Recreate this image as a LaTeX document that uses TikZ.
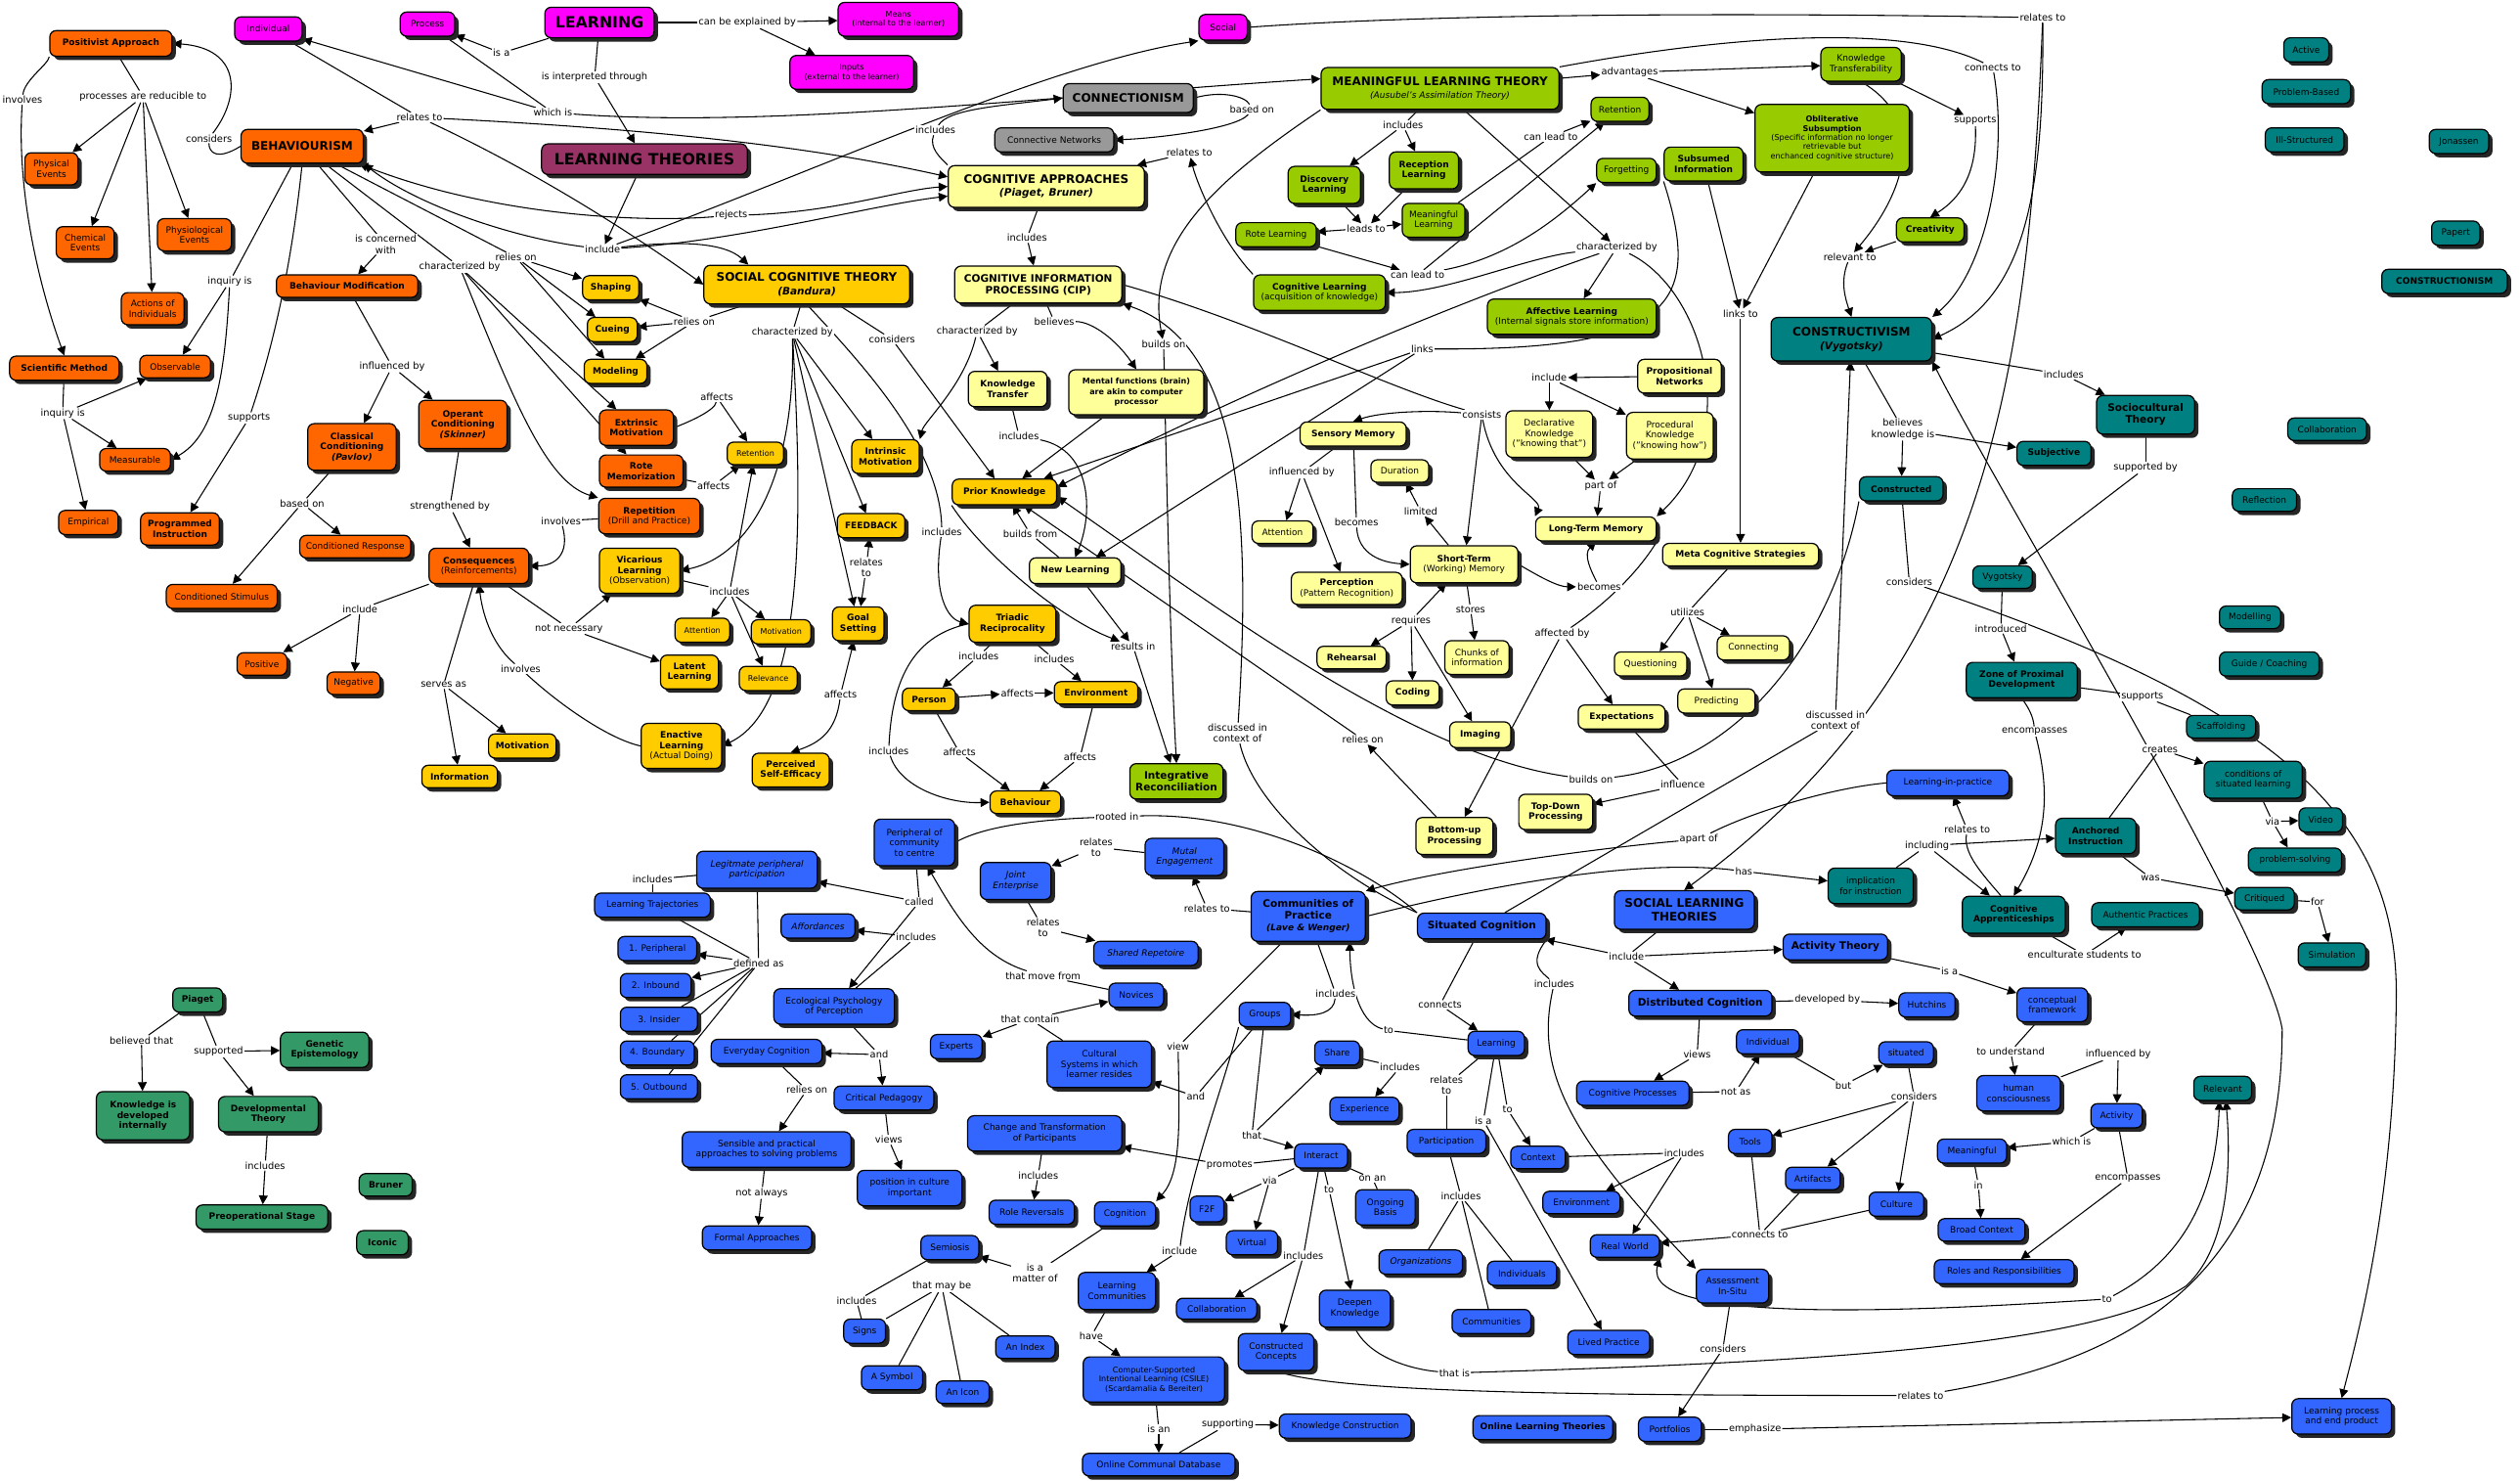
\documentclass[tikz,border=0pt]{standalone}
\usepackage{fontspec}
\setmainfont{DejaVu Sans}
\usetikzlibrary{arrows.meta,shadows,backgrounds}
\definecolor{cMag}{HTML}{FF00FF}
\definecolor{cPlum}{HTML}{993366}
\definecolor{cOrg}{HTML}{FF6600}
\definecolor{cGold}{HTML}{FFCC00}
\definecolor{cLy}{HTML}{FFFF99}
\definecolor{cLime}{HTML}{99CC00}
\definecolor{cGrey}{HTML}{999999}
\definecolor{cTeal}{HTML}{008080}
\definecolor{cBlue}{HTML}{3366FF}
\definecolor{cSea}{HTML}{339966}
\newcommand\szR{\fontsize{5.5}{6.4}\selectfont}
\newcommand\szS{\fontsize{4.9}{5.7}\selectfont}
\newcommand\szL{\fontsize{6}{6.8}\selectfont}
\newcommand\szM{\fontsize{6.4}{7.4}\selectfont}
\newcommand\szG{\fontsize{7.3}{8.4}\selectfont}
\newcommand\szH{\fontsize{9.6}{10.5}\selectfont}
\newcommand\nd[6]{\node[#1,minimum width=#4pt,minimum height=#5pt] (#2) at (#3) {#6};}
\newcommand\lab[3]{\node[lbl] (#1) at (#2) {#3};}
\newcommand\eL[2]{\draw[cl] (#1) -- (#2);}
\newcommand\eA[2]{\draw[ca] (#1) -- (#2);}
\tikzset{
 box/.style={draw,line width=0.75pt,rounded corners=4pt,align=center,inner sep=1pt,font=\szR,
   drop shadow={shadow xshift=2.4pt,shadow yshift=-2.4pt,fill=black!85,opacity=1}},
 cmg/.style={box,fill=cMag},
 cpl/.style={box,fill=cPlum},
 corg/.style={box,fill=cOrg},
 cgd/.style={box,fill=cGold},
 cly/.style={box,fill=cLy},
 clm/.style={box,fill=cLime},
 cgy/.style={box,fill=cGrey},
 ctl/.style={box,fill=cTeal},
 cbl/.style={box,fill=cBlue},
 csg/.style={box,fill=cSea},
 fbold/.style={font=\szR\bfseries},
 fsmall/.style={font=\szS},
 fmed/.style={font=\szM\bfseries},
 fbig/.style={font=\szG\bfseries},
 fhuge/.style={font=\szH\bfseries},
 fital/.style={font=\szR\itshape},
 lbl/.style={fill=white,inner sep=0.6pt,align=center,font=\szL},
 cl/.style={line width=0.65pt},
 ca/.style={cl,-{Triangle[length=5.5pt,width=5.5pt]}},
}
\begin{document}
\begin{tikzpicture}[x=1pt,y=-1pt]
\useasboundingbox (0,0) rectangle (1568,921);
% ---------------- magenta / top
\nd{cmg,fhuge}{learn}{373,14}{68}{19}{LEARNING}
\nd{cmg}{indiv}{167,18}{42}{15}{Individual}
\nd{cmg}{proc}{266,15}{34}{15}{Process}
\nd{cmg,fsmall}{means}{559,12}{75}{21}{Means\\(internal to the learner)}
\nd{cmg,fsmall}{inputs}{530,45}{77}{21}{Inputs\\(external to the learner)}
\nd{cmg}{social}{761,17}{30}{16}{Social}
\nd{cpl,fhuge}{lth}{401,99}{128}{19}{LEARNING THEORIES}
% ---------------- orange
\nd{corg,fbold}{pos}{69,27}{76}{16}{Positivist Approach}
\nd{corg,fbig}{beh}{188,91}{76}{21}{BEHAVIOURISM}
\nd{corg}{phys}{32,105}{33}{20}{Physical\\Events}
\nd{corg}{chem}{53,151}{36}{20}{Chemical\\Events}
\nd{corg}{physio}{121,146}{46}{20}{Physiological\\Events}
\nd{corg}{actions}{95,192}{39}{20}{Actions of\\Individuals}
\nd{corg,fbold}{sci}{40,229}{68}{15}{Scientific Method}
\nd{corg}{obs}{109,228}{44}{14}{Observable}
\nd{corg}{meas}{84,286}{44}{14}{Measurable}
\nd{corg}{emp}{55,325}{37}{15}{Empirical}
\nd{corg,fbold}{prog}{112,329}{49}{20}{Programmed\\Instruction}
\nd{corg,fbold}{bmod}{216,178}{88}{14}{Behaviour Modification}
\nd{corg,fbold}{class}{219,278}{55}{29}{Classical\\Conditioning\\\textit{(Pavlov)}}
\nd{corg,fbold}{oper}{288,264}{55}{30}{Operant\\Conditioning\\\textit{(Skinner)}}
\nd{corg}{cresp}{221,340}{69}{14}{Conditioned Response}
\nd{corg}{cstim}{138,371}{69}{15}{Conditioned Stimulus}
\nd{corg}{cons}{298,352}{62}{22}{\textbf{Consequences}\\(Reinforcements)}
\nd{corg}{posv}{163,413}{31}{14}{Positive}
\nd{corg}{neg}{220,425}{33}{14}{Negative}
\nd{corg,fbold}{extr}{396,266}{46}{22}{Extrinsic\\Motivation}
\nd{corg,fbold}{rote}{399,293}{52}{20}{Rote\\Memorization}
\nd{corg}{rep}{404,321}{63}{22}{\textbf{Repetition}\\(Drill and Practice)}
% ---------------- gold
\nd{cgd,fbig}{scog}{502,177}{128}{24}{SOCIAL COGNITIVE THEORY\\{\szM\itshape(Bandura)}}
\nd{cgd,fbold}{shap}{380,179}{35}{15}{Shaping}
\nd{cgd,fbold}{cue}{381,205}{31}{15}{Cueing}
\nd{cgd,fbold}{mod}{383,231}{39}{15}{Modeling}
\nd{cgd,fsmall}{ret1}{470,282}{35}{14}{Retention}
\nd{cgd,fbold}{intr}{551,284}{42}{21}{Intrinsic\\Motivation}
\nd{cgd,fbold}{feed}{542,327}{42}{15}{FEEDBACK}
\nd{cgd}{vic}{398,355}{50}{28}{\textbf{Vicarious}\\\textbf{Learning}\\(Observation)}
\nd{cgd,fsmall}{att1}{437,392}{34}{15}{Attention}
\nd{cgd,fsmall}{mot1}{486,393}{37}{15}{Motivation}
\nd{cgd,fbold}{goal}{534,388}{32}{21}{Goal\\Setting}
\nd{cgd,fbold}{lat}{429,418}{36}{21}{Latent\\Learning}
\nd{cgd,fsmall}{rel}{478,422}{36}{15}{Relevance}
\nd{cgd}{enac}{424,464}{50}{28}{\textbf{Enactive}\\\textbf{Learning}\\(Actual Doing)}
\nd{cgd,fbold}{pse}{492,479}{48}{21}{Perceived\\Self-Efficacy}
\nd{cgd,fbold}{mot2}{325,464}{42}{15}{Motivation}
\nd{cgd,fbold}{info}{286,483}{47}{14}{Information}
\nd{cgd,fbold}{prior}{625,306}{65}{16}{Prior Knowledge}
\nd{cgd,fbold}{triad}{630,388}{54}{23}{Triadic\\Reciprocality}
\nd{cgd,fbold}{person}{578,435}{33}{14}{Person}
\nd{cgd,fbold}{envg}{682,431}{52}{14}{Environment}
\nd{cgd,fbold}{behv}{638,499}{44}{14}{Behaviour}
% ---------------- light yellow
\nd{cly,fbig}{cog}{651,116}{122}{26}{COGNITIVE APPROACHES\\{\szM\itshape(Piaget, Bruner)}}
\nd{cly,fmed}{cip}{646,177}{104}{23}{COGNITIVE INFORMATION\\PROCESSING (CIP)}
\nd{cly,fbold}{ktr}{627,242}{49}{22}{Knowledge\\Transfer}
\nd{cly,fbold}{mental}{707,244}{84}{28}{\szS Mental functions (brain)\\\szS are akin to computer\\\szS processor}
\nd{cly,fbold}{newl}{669,355}{57}{16}{New Learning}
\nd{cly,fbold}{sens}{842,270}{66}{15}{Sensory Memory}
\nd{cly}{dur}{871,293}{36}{14}{Duration}
\nd{cly}{att2}{798,331}{38}{14}{Attention}
\nd{cly}{perc}{838,366}{69}{20}{\textbf{Perception}\\(Pattern Recognition)}
\nd{cly}{stm}{911,351}{67}{23}{\textbf{Short-Term}\\(Working) Memory}
\nd{cly,fbold}{ltm}{993,329}{75}{15}{Long-Term Memory}
\nd{cly,fbold}{meta}{1083,345}{97}{14}{Meta Cognitive Strategies}
\nd{cly,fbold}{reh}{841,409}{43}{14}{Rehearsal}
\nd{cly,fbold}{coding}{879,431}{33}{15}{Coding}
\nd{cly}{chunks}{919,409}{40}{21}{Chunks of\\information}
\nd{cly,fbold}{imag}{921,457}{38}{16}{Imaging}
\nd{cly}{quest}{1027,413}{45}{15}{Questioning}
\nd{cly}{conn}{1091,403}{45}{15}{Connecting}
\nd{cly}{pred}{1068,436}{48}{15}{Predicting}
\nd{cly,fbold}{expt}{1009,446}{54}{15}{Expectations}
\nd{cly,fbold}{topd}{968,505}{46}{22}{Top-Down\\Processing}
\nd{cly,fbold}{botu}{905,520}{48}{23}{Bottom-up\\Processing}
\nd{cly,fbold}{prop}{1045,234}{52}{21}{Propositional\\Networks}
\nd{cly}{decl}{964,270}{54}{29}{Declarative\\Knowledge\\("knowing that")}
\nd{cly}{proc2}{1039,271}{54}{29}{Procedural\\Knowledge\\("knowing how")}
% ---------------- lime
\nd{clm,fbig}{mlt}{896,55}{148}{26}{MEANINGFUL LEARNING THEORY\\{\mdseries\szR\itshape(Ausubel's Assimilation Theory)}}
\nd{clm}{ktf}{1158,40}{50}{21}{Knowledge\\Transferability}
\nd{clm,fsmall}{obl}{1140,86}{96}{42}{\textbf{Obliterative}\\\textbf{Subsumption}\\(Specific information no longer\\retrievable but\\enchanced cognitive structure)}
\nd{clm}{ret2}{1008,68}{36}{15}{Retention}
\nd{clm}{forg}{1012,106}{37}{15}{Forgetting}
\nd{clm,fbold}{subs}{1060,102}{49}{21}{Subsumed\\Information}
\nd{clm,fbold}{disc}{824,115}{45}{23}{Discovery\\Learning}
\nd{clm,fbold}{recp}{886,106}{43}{23}{Reception\\Learning}
\nd{clm}{meanl}{892,137}{39}{21}{Meaningful\\Learning}
\nd{clm}{rotel}{794,146}{50}{15}{Rote Learning}
\nd{clm}{cogl}{821,182}{82}{22}{\textbf{Cognitive Learning}\\(acquisition of knowledge)}
\nd{clm}{affl}{978,197}{105}{22}{\textbf{Affective Learning}\\(Internal signals store information)}
\nd{clm,fbold}{creat}{1201,143}{42}{15}{Creativity}
\nd{clm,fmed}{integ}{732,486}{58}{22}{Integrative\\Reconciliation}
% ---------------- grey
\nd{cgy,fbig}{connm}{702,61}{81}{18}{CONNECTIONISM}
\nd{cgy}{cnet}{656,87}{74}{15}{Connective Networks}
% ---------------- teal
\nd{ctl,fbig}{cnst}{1152,211}{100}{27}{CONSTRUCTIVISM\\{\szM\itshape(Vygotsky)}}
\nd{ctl}{active}{1435,31}{28}{15}{Active}
\nd{ctl}{pbased}{1435,57}{55}{15}{Problem-Based}
\nd{ctl}{ills}{1434,87}{49}{15}{Ill-Structured}
\nd{ctl}{jon}{1530,88}{37}{15}{Jonassen}
\nd{ctl}{pap}{1528,145}{30}{15}{Papert}
\nd{ctl,fbold}{cnism}{1521,175}{78}{15}{CONSTRUCTIONISM}
\nd{ctl,fmed}{socio}{1335,258}{61}{24}{Sociocultural\\Theory}
\nd{ctl,fbold}{subj}{1278,282}{46}{15}{Subjective}
\nd{ctl,fbold}{constd}{1183,304}{52}{15}{Constructed}
\nd{ctl}{collt}{1448,267}{49}{14}{Collaboration}
\nd{ctl}{refl}{1409,311}{40}{14}{Reflection}
\nd{ctl}{vyg}{1246,359}{37}{14}{Vygotsky}
\nd{ctl}{modl}{1400,384}{38}{14}{Modelling}
\nd{ctl}{guide}{1412,413}{62}{15}{Guide / Coaching}
\nd{ctl,fbold}{zpd}{1258,423}{69}{22}{Zone of Proximal\\Development}
\nd{ctl}{scaf}{1382,452}{43}{14}{Scaffolding}
\nd{ctl}{condsl}{1402,485}{61}{23}{conditions of\\situated learning}
\nd{ctl}{video}{1444,510}{27}{15}{Video}
\nd{ctl}{probs}{1428,535}{58}{15}{problem-solving}
\nd{ctl,fbold}{anch}{1304,520}{50}{22}{Anchored\\Instruction}
\nd{ctl}{impl}{1164,551}{53}{22}{implication\\for instruction}
\nd{ctl,fbold}{capp}{1253,569}{64}{23}{Cognitive\\Apprenticeships}
\nd{ctl}{auth}{1335,569}{67}{15}{Authentic Practices}
\nd{ctl}{crit}{1409,559}{37}{14}{Critiqued}
\nd{ctl}{sim}{1451,594}{42}{15}{Simulation}
\nd{ctl}{relv}{1383,677}{36}{15}{Relevant}
% ---------------- blue
\nd{cbl}{peri}{569,524}{50}{29}{Peripheral of\\community\\to centre}
\nd{cbl,fital}{lpp}{471,541}{75}{23}{Legitmate peripheral\\participation}
\nd{cbl}{ltraj}{406,563}{72}{15}{Learning Trajectories}
\nd{cbl,fital}{afford}{509,576}{46}{15}{Affordances}
\nd{cbl}{p1}{409,590}{49}{15}{1. Peripheral}
\nd{cbl}{p2}{408,613}{44}{15}{2. Inbound}
\nd{cbl}{p3}{410,634}{48}{15}{3. Insider}
\nd{cbl}{p4}{409,655}{46}{15}{4. Boundary}
\nd{cbl}{p5}{410,676}{48}{15}{5. Outbound}
\nd{cbl}{eco}{519,626}{75}{22}{Ecological Psychology\\of Perception}
\nd{cbl}{every}{477,654}{69}{15}{Everyday Cognition}
\nd{cbl}{critp}{550,683}{62}{15}{Critical Pedagogy}
\nd{cbl}{sensb}{477,715}{105}{22}{Sensible and practical\\approaches to solving problems}
\nd{cbl}{formal}{471,770}{68}{15}{Formal Approaches}
\nd{cbl}{posc}{566,739}{65}{22}{position in culture\\important}
\nd{cbl,fital}{joint}{632,548}{44}{23}{Joint\\Enterprise}
\nd{cbl,fital}{mutal}{737,533}{49}{23}{Mutal\\Engagement}
\nd{cbl,fital}{shared}{713,593}{65}{15}{Shared Repetoire}
\nd{cbl,fmed}{cop}{814,570}{71}{31}{Communities of\\Practice\\{\szR\itshape(Lave \& Wenger)}}
\nd{cbl,fmed}{sitc}{922,576}{80}{16}{Situated Cognition}
\nd{cbl,fbig}{slt}{1048,566}{87}{24}{SOCIAL LEARNING\\THEORIES}
\nd{cbl,fmed}{actth}{1142,589}{65}{16}{Activity Theory}
\nd{cbl,fmed}{distc}{1058,624}{89}{16}{Distributed Cognition}
\nd{cbl}{hutch}{1199,625}{35}{15}{Hutchins}
\nd{cbl}{cframe}{1277,625}{44}{21}{conceptual\\framework}
\nd{cbl}{novic}{707,619}{34}{15}{Novices}
\nd{cbl}{expert}{595,651}{32}{15}{Experts}
\nd{cbl}{cults}{684,662}{65}{29}{Cultural\\Systems in which\\learner resides}
\nd{cbl}{groups}{787,631}{32}{15}{Groups}
\nd{cbl}{share}{832,655}{28}{15}{Share}
\nd{cbl}{expr}{849,690}{43}{15}{Experience}
\nd{cbl}{learnb}{931,649}{35}{15}{Learning}
\nd{cbl}{indb}{1100,648}{39}{15}{Individual}
\nd{cbl}{situ}{1186,655}{34}{14}{situated}
\nd{cbl}{cogp}{1016,680}{70}{15}{Cognitive Processes}
\nd{cbl}{humc}{1256,680}{52}{22}{human\\consciousness}
\nd{cbl}{activ}{1317,694}{32}{15}{Activity}
\nd{cbl}{change}{650,705}{96}{22}{Change and Transformation\\of Participants}
\nd{cbl}{interact}{822,719}{33}{15}{Interact}
\nd{cbl}{partic}{900,710}{49}{15}{Participation}
\nd{cbl}{context}{957,720}{34}{14}{Context}
\nd{cbl}{tools}{1089,710}{27}{15}{Tools}
\nd{cbl}{meanb}{1227,716}{43}{15}{Meaningful}
\nd{cbl}{artif}{1128,733}{34}{14}{Artifacts}
\nd{cbl}{roler}{642,754}{53}{15}{Role Reversals}
\nd{cbl}{cogn}{700,755}{38}{15}{Cognition}
\nd{cbl}{f2f}{751,752}{21}{16}{F2F}
\nd{cbl}{ongo}{862,751}{37}{22}{Ongoing\\Basis}
\nd{cbl}{envb}{984,748}{48}{14}{Environment}
\nd{cbl}{culture}{1180,749}{34}{15}{Culture}
\nd{cbl}{virt}{779,773}{32}{15}{Virtual}
\nd{cbl}{realw}{1011,775}{43}{14}{Real World}
\nd{cbl}{broad}{1233,765}{54}{14}{Broad Context}
\nd{cbl}{semio}{591,776}{36}{15}{Semiosis}
\nd{cbl,fital}{orgs}{884,785}{52}{15}{Organizations}
\nd{cbl}{indivs}{947,792}{43}{15}{Individuals}
\nd{cbl}{assess}{1078,800}{45}{21}{Assessment\\In-Situ}
\nd{cbl}{roles}{1247,791}{87}{15}{Roles and Responsibilities}
\nd{cbl}{lcom}{695,803}{48}{23}{Learning\\Communities}
\nd{cbl}{collb}{757,814}{50}{13}{Collaboration}
\nd{cbl}{deep}{843,814}{44}{23}{Deepen\\Knowledge}
\nd{cbl}{commu}{928,822}{49}{15}{Communities}
\nd{cbl}{constc}{794,841}{47}{23}{Constructed\\Concepts}
\nd{cbl}{lived}{1001,835}{51}{15}{Lived Practice}
\nd{cbl}{signs}{538,828}{26}{15}{Signs}
\nd{cbl}{index}{638,838}{37}{14}{An Index}
\nd{cbl}{symb}{555,857}{38}{15}{A Symbol}
\nd{cbl}{icon}{599,866}{33}{14}{An Icon}
\nd{cbl,fsmall}{csile}{718,858}{88}{28}{Computer-Supported\\Intentional Learning (CSILE)\\(Scardamalia \& Bereiter)}
\nd{cbl}{ocd}{721,911}{95}{14}{Online Communal Database}
\nd{cbl}{kcon}{837,887}{82}{15}{Knowledge Construction}
\nd{cbl,fbold}{olt}{960,888}{87}{15}{Online Learning Theories}
\nd{cbl}{portf}{1039,889}{39}{15}{Portfolios}
\nd{cbl}{lpep}{1457,881}{62}{22}{Learning process\\and end product}
\nd{cbl}{lip}{1212,487}{76}{16}{Learning-in-practice}
% ---------------- sea green
\nd{csg,fbold}{piaget}{123,622}{31}{15}{Piaget}
\nd{csg,fbold}{genep}{202,653}{55}{22}{Genetic\\Epistemology}
\nd{csg,fbold}{kidi}{89,694}{58}{30}{Knowledge is\\developed\\internally}
\nd{csg,fbold}{devt}{167,693}{62}{22}{Developmental\\Theory}
\nd{csg,fbold}{preop}{163,757}{82}{15}{Preoperational Stage}
\nd{csg,fbold}{bruner}{240,737}{33}{14}{Bruner}
\nd{csg,fbold}{iconic}{238,773}{32}{15}{Iconic}
% ---------------- linking phrases
\lab{Linv}{14,62}{involves}
\lab{Lproc}{89,60}{processes are reducible to}
\lab{Lconsid}{130,86}{considers}
\lab{Lrel1}{261,73}{relates to}
\lab{Lisa}{312,33}{is a}
\lab{Linterp}{370,48}{is interpreted through}
\lab{Lwhich}{344,70}{which is}
\lab{Lincl}{375,155}{include}
\lab{Lconc}{240,152}{is concerned\\with}
\lab{Lchar1}{286,166}{characterized by}
\lab{Lrelon1}{321,160}{relies on}
\lab{Linq1}{143,175}{inquiry is}
\lab{Linq2}{39,257}{inquiry is}
\lab{Linfl1}{244,228}{influenced by}
\lab{Lsupp1}{155,260}{supports}
\lab{Lbased1}{188,313}{based on}
\lab{Lstr}{280,315}{strengthened by}
\lab{Linvo2}{349,324}{involves}
\lab{Lincl2}{224,379}{include}
\lab{Lnotn}{354,391}{not necessary}
\lab{Linvo3}{324,416}{involves}
\lab{Lserv}{276,426}{serves as}
\lab{Lexpl}{465,14}{can be explained by}
\lab{Lincl3}{582,81}{includes}
\lab{Lbased2}{779,68}{based on}
\lab{Lrel2}{740,95}{relates to}
\lab{Lrej}{455,134}{rejects}
\lab{Lincl4}{639,148}{includes}
\lab{Lrelon2}{432,200}{relies on}
\lab{Lchar2}{493,207}{characterized by}
\lab{Lconsid2}{555,211}{considers}
\lab{Lchar3}{608,206}{characterized by}
\lab{Lbeli}{656,200}{believes}
\lab{Lbuild1}{724,214}{builds on}
\lab{Laff1}{446,247}{affects}
\lab{Laff2}{444,302}{affects}
\lab{Lincl5}{634,271}{includes}
\lab{Lincl6}{454,368}{includes}
\lab{Lrel3}{539,353}{relates\\to}
\lab{Laff3}{523,432}{affects}
\lab{Lincl7}{586,331}{includes}
\lab{Lbfrom}{641,332}{builds from}
\lab{Lres}{705,402}{results in}
\lab{Lincl8}{609,408}{includes}
\lab{Lincl9}{656,410}{includes}
\lab{Laff4}{633,431}{affects}
\lab{Lincl10}{553,467}{includes}
\lab{Laff5}{597,468}{affects}
\lab{Laff6}{672,471}{affects}
\lab{Ldisc1}{770,456}{discussed in\\context of}
\lab{Ladv}{1014,45}{advantages}
\lab{Lincl11}{873,78}{includes}
\lab{Lclt1}{965,85}{can lead to}
\lab{Lleads}{850,142}{leads to}
\lab{Lchar4}{1006,154}{characterized by}
\lab{Lrelv}{1151,160}{relevant to}
\lab{Lclt2}{882,171}{can lead to}
\lab{Llinksto}{1083,195}{links to}
\lab{Llinks}{885,217}{links}
\lab{Lincl12}{964,235}{include}
\lab{Lconsists}{922,258}{consists}
\lab{Linfl2}{810,294}{influenced by}
\lab{Lpartof}{996,302}{part of}
\lab{Lrelto4}{1271,11}{relates to}
\lab{Lconnto}{1240,42}{connects to}
\lab{Lsupp2}{1229,75}{supports}
\lab{Lincl13}{1284,233}{includes}
\lab{Lbelieves}{1184,267}{believes\\knowledge is}
\lab{Lsuppby}{1335,291}{supported by}
\lab{Lbecomes1}{844,325}{becomes}
\lab{Llimited}{884,318}{limited}
\lab{Lbecomes2}{995,365}{becomes}
\lab{Lstores}{915,379}{stores}
\lab{Lreq}{878,386}{requires}
\lab{Lutil}{1050,381}{utilizes}
\lab{Laffby}{972,394}{affected by}
\lab{Lrelon3}{848,460}{relies on}
\lab{Ldisc2}{1142,448}{discussed in\\context of}
\lab{Lbuild2}{990,485}{builds on}
\lab{Linfl}{1047,488}{influence}
\lab{Lapart}{1057,522}{apart of}
\lab{Lhas}{1085,542}{has}
\lab{Lincl14}{1012,595}{include}
\lab{Lincl15}{967,612}{includes}
\lab{Lconsid3}{1188,362}{considers}
\lab{Lintro}{1245,391}{introduced}
\lab{Lsupp3}{1333,433}{supports}
\lab{Lenc1}{1266,455}{encompasses}
\lab{Lcreates}{1344,466}{creates}
\lab{Lvia1}{1414,511}{via}
\lab{Lrel5}{1224,516}{relates to}
\lab{Lincluding}{1199,526}{including}
\lab{Lwas}{1338,546}{was}
\lab{Lfor}{1442,561}{for}
\lab{Lencult}{1297,594}{enculturate students to}
\lab{Lisa2}{1213,604}{is a}
\lab{Lrooted}{695,508}{rooted in}
\lab{Lrel6}{682,527}{relates\\to}
\lab{Lincl16}{406,547}{includes}
\lab{Lcalled}{572,561}{called}
\lab{Lincl17}{570,583}{includes}
\lab{Lrel7}{649,577}{relates\\to}
\lab{Lrel8}{751,565}{relates to}
\lab{Ldefas}{472,599}{defined as}
\lab{Ltmf}{649,607}{that move from}
\lab{Ltc}{641,634}{that contain}
\lab{Land1}{547,656}{and}
\lab{Lview}{733,651}{view}
\lab{Lrelon4}{502,678}{relies on}
\lab{Land2}{744,682}{and}
\lab{Lviews}{553,709}{views}
\lab{Lprom}{765,725}{promotes}
\lab{Lincl18}{646,731}{includes}
\lab{Lnota}{474,742}{not always}
\lab{Lincl19}{734,778}{include}
\lab{Lmatter}{644,792}{is a\\matter of}
\lab{Ltmb}{586,800}{that may be}
\lab{Lincl20}{533,809}{includes}
\lab{Lhave}{679,831}{have}
\lab{Lisan}{721,889}{is an}
\lab{Lsupping}{764,886}{supporting}
\lab{Lincl21}{831,618}{includes}
\lab{Lconnects}{896,625}{connects}
\lab{Ldevby}{1137,622}{developed by}
\lab{Lto1}{864,641}{to}
\lab{Lincl22}{871,664}{includes}
\lab{Lviews2}{1056,656}{views}
\lab{Lrelto9}{900,675}{relates\\to}
\lab{Lbut}{1147,675}{but}
\lab{Lnotas}{1080,679}{not as}
\lab{Lto2}{938,690}{to}
\lab{Lisa3}{923,697}{is a}
\lab{Lthat}{779,706}{that}
\lab{Lincl23}{1048,717}{includes}
\lab{Lvia2}{790,734}{via}
\lab{Lonan}{854,733}{on an}
\lab{Lto3}{827,740}{to}
\lab{Lincl24}{909,744}{includes}
\lab{Lconnto2}{1095,768}{connects to}
\lab{Lincl25}{811,781}{includes}
\lab{Lconsid4}{1072,839}{considers}
\lab{Lthatis}{905,854}{that is}
\lab{Lemph}{1092,889}{emphasize}
\lab{Ltounder}{1251,654}{to understand}
\lab{Linflby3}{1318,656}{influenced by}
\lab{Lconsid5}{1191,682}{considers}
\lab{Lwhichis2}{1289,710}{which is}
\lab{Lin}{1231,737}{in}
\lab{Lenc2}{1324,733}{encompasses}
\lab{Lto4}{1311,808}{to}
\lab{Lrelto10}{1195,868}{relates to}
\lab{Lbelieved}{88,647}{believed that}
\lab{Lsupported}{136,654}{supported}
\lab{Lincl26}{165,725}{includes}
% ---------------- connectors
\begin{scope}[on background layer]
\fill[white] (0,0) rectangle (1568,921);
% learning
\eL{learn}{Lisa}\eA{Lisa}{proc}
\eL{learn}{Linterp}\eA{Linterp}{lth}
\eL{learn}{Lexpl}\eA{Lexpl}{means}\eA{Lexpl}{inputs}
\eL{proc}{Lwhich}\eA{Lwhich}{indiv}
\draw[ca] (Lwhich) .. controls (480,80) and (650,60) .. ([yshift=6pt]mlt.west);
\eA{lth}{Lincl}
\draw[ca] (Lincl) .. controls (320,148) and (260,128) .. (beh.south east);
\draw[ca] (Lincl) .. controls (420,150) and (450,150) .. ([xshift=28pt]scog.north west);
\draw[ca] (Lincl) .. controls (460,150) and (540,128) .. ([yshift=-6pt]cog.west);
\draw[ca] (Lincl) .. controls (500,110) and (650,40) .. (social.south west);
\eL{indiv}{Lrel1}\eA{Lrel1}{beh}
\draw[ca] (Lrel1) .. controls (400,80) and (500,90) .. ([yshift=6pt]cog.west);
\draw[ca] (Lrel1) .. controls (340,110) and (400,150) .. (scog.west);
\draw[ca] (Lrej) .. controls (390,139) and (300,132) .. ([xshift=-3pt]beh.south east);
\draw[ca] (Lrej) .. controls (520,132) and (560,118) .. (cog.west);
% positivist / behaviourism
\eL{pos}{Lproc}\eA{Lproc}{phys}\eA{Lproc}{chem}\eA{Lproc}{physio}\eA{Lproc}{actions}
\draw[cl] (pos.south west) .. controls (30,40) and (15,50) .. (Linv);
\draw[ca] (Linv) .. controls (10,120) and (25,180) .. (sci.north);
\draw[cl] (beh.west) .. controls (135,100) and (130,95) .. (Lconsid);
\draw[ca] (Lconsid) .. controls (150,60) and (150,30) .. (pos.east);
\eL{beh}{Linq1}\eA{Linq1}{obs}
\draw[ca] (Linq1) .. controls (140,230) and (135,270) .. (meas.east);
\eL{sci}{Linq2}\eA{Linq2}{obs}\eA{Linq2}{meas}\eA{Linq2}{emp}
\draw[cl] (beh.south) .. controls (180,180) and (165,230) .. (Lsupp1);
\eA{Lsupp1}{prog}
\eL{beh}{Lconc}\eA{Lconc}{bmod}
\eL{bmod}{Linfl1}\eA{Linfl1}{class}\eA{Linfl1}{oper}
\eL{class}{Lbased1}\eA{Lbased1}{cresp}\eA{Lbased1}{cstim}
\eL{oper}{Lstr}\eA{Lstr}{cons}
\eL{cons}{Lincl2}\eA{Lincl2}{posv}\eA{Lincl2}{neg}
\eL{cons}{Lserv}\eA{Lserv}{info}\eA{Lserv}{mot2}
\eL{rep}{Linvo2}\draw[ca] (Linvo2) .. controls (355,345) and (345,352) .. (cons.east);
\draw[cl] (enac.west) .. controls (380,460) and (350,440) .. (Linvo3);
\draw[ca] (Linvo3) .. controls (305,400) and (300,380) .. (cons.south);
\eL{cons}{Lnotn}\eA{Lnotn}{vic}\eA{Lnotn}{lat}
\eL{beh}{Lchar1}\eA{Lchar1}{extr}\eA{Lchar1}{rote}
\draw[ca] (Lchar1) .. controls (320,250) and (340,300) .. (rep.north west);
\eL{beh}{Lrelon1}\eA{Lrelon1}{shap}\eA{Lrelon1}{cue}\eA{Lrelon1}{mod}
\eL{scog}{Lrelon2}\eA{Lrelon2}{shap}\eA{Lrelon2}{cue}\eA{Lrelon2}{mod}
\draw[cl] (extr.east) .. controls (430,262) and (445,255) .. (Laff1);\eA{Laff1}{ret1}
\eL{rote}{Laff2}\eA{Laff2}{ret1}
% social cognitive
\eL{scog}{Lchar2}
\draw[ca] (Lchar2) .. controls (495,290) and (470,345) .. (vic.east);
\eA{Lchar2}{intr}\eA{Lchar2}{feed}\eA{Lchar2}{goal}
\draw[ca] (Lchar2) .. controls (500,330) and (500,440) .. (enac.east);
\eL{scog}{Lconsid2}\eA{Lconsid2}{prior}
\draw[cl] (scog.south) .. controls (540,230) and (585,280) .. (Lincl7);
\draw[ca] (Lincl7) .. controls (580,370) and (590,385) .. (triad.west);
\eL{vic}{Lincl6}\eA{Lincl6}{att1}\eA{Lincl6}{mot1}\eA{Lincl6}{rel}\eA{Lincl6}{ret1}
\eA{Lrel3}{feed}\eA{Lrel3}{goal}
\eA{Laff3}{goal}\draw[ca] (Laff3) .. controls (520,455) and (510,462) .. (pse.north);
% cognitive
\draw[cl] (cog.north west) .. controls (585,98) and (578,92) .. (Lincl3);
\draw[ca] (Lincl3) .. controls (590,68) and (620,66) .. (connm.west);
\draw[cl] (connm.east) .. controls (760,56) and (775,60) .. (Lbased2);
\draw[ca] (Lbased2) .. controls (770,80) and (720,86) .. (cnet.east);
\draw[ca] (cogl.north west) .. controls (760,150) and (745,115) .. (Lrel2);
\eA{Lrel2}{cog}
\eL{cog}{Lincl4}\eA{Lincl4}{cip}
\eL{cip}{Lchar3}\eA{Lchar3}{ktr}
\draw[ca] (Lchar3) .. controls (600,240) and (575,262) .. (intr.north east);
\eL{cip}{Lbeli}\draw[ca] (Lbeli) .. controls (680,200) and (695,212) .. (mental.north);
\eL{ktr}{Lincl5}\draw[ca] (Lincl5) .. controls (680,280) and (680,320) .. (newl.north);
\draw[ca] (mlt.south west) .. controls (760,110) and (712,150) .. (Lbuild1);
\draw[ca] (Lbuild1) .. controls (726,300) and (728,400) .. (integ.north);
\eA{mental}{prior}
\eL{newl}{Lbfrom}\eA{Lbfrom}{prior}
\draw[ca] (prior.south west) .. controls (612,345) and (660,385) .. (Lres);
\eA{newl}{Lres}\eA{Lres}{integ}
\eL{triad}{Lincl8}\eA{Lincl8}{person}\eL{triad}{Lincl9}\eA{Lincl9}{envg}
\draw[cl] (triad.west) .. controls (570,395) and (555,420) .. (Lincl10);
\draw[ca] (Lincl10) .. controls (560,490) and (590,500) .. (behv.west);
\eA{person}{Laff4}\eA{Laff4}{envg}
\eL{person}{Laff5}\eA{Laff5}{behv}\eL{envg}{Laff6}\eA{Laff6}{behv}
% meaningful learning
\eA{mlt}{Ladv}\eA{Ladv}{ktf}\eA{Ladv}{obl}
\eL{mlt}{Lincl11}\eA{Lincl11}{disc}\eA{Lincl11}{recp}
\eA{disc}{Lleads}\eA{recp}{Lleads}\eA{Lleads}{meanl}\eA{Lleads}{rotel}
\eL{meanl}{Lclt1}\eA{Lclt1}{ret2}
\eA{rotel}{Lclt2}\eA{Lclt2}{ret2}
\draw[ca] (Lclt2) .. controls (940,160) and (970,135) .. (forg.south west);
\eA{mlt}{Lchar4}
\draw[ca] (Lchar4) .. controls (950,160) and (900,182) .. (cogl.east);
\eA{Lchar4}{affl}
\draw[ca] (Lchar4) .. controls (1060,180) and (1085,270) .. (ltm.north east);
\draw[ca] (Lchar4) .. controls (900,190) and (760,250) .. ([yshift=3pt]prior.east);
\eA{ktf}{Lsupp2}\draw[ca] (Lsupp2) .. controls (1230,100) and (1225,120) .. (creat.north);
\eA{creat}{Lrelv}
\draw[ca] (ktf.south) .. controls (1200,75) and (1185,120) .. (Lrelv);
\draw[ca] (Lrelv) .. controls (1145,175) and (1148,185) .. (cnst.north);
\eA{obl}{Llinksto}\eA{subs}{Llinksto}\draw[ca] (Llinksto) -- (meta.north);
\draw[cl] (subs.south west) .. controls (1060,190) and (1040,218) .. (Llinks);
\eA{Llinks}{prior}\eA{Llinks}{newl}
\draw[cl] (mlt.north east) .. controls (1060,25) and (1180,12) .. (Lconnto);
\draw[ca] (Lconnto) .. controls (1250,100) and (1235,170) .. (cnst.north east);
\draw[cl] (social.east) .. controls (900,8) and (1100,8) .. (Lrelto4);
\draw[ca] (Lrelto4) .. controls (1272,120) and (1260,185) .. (cnst.east);
\draw[ca] (Lrelto4) .. controls (1262,250) and (1230,420) .. (slt.north);
% memory
\draw[cl] (cip.east) .. controls (780,200) and (860,240) .. (Lconsists);
\draw[ca] (Lconsists) .. controls (890,255) and (860,256) .. (sens.north);
\eA{Lconsists}{stm}
\draw[ca] (Lconsists) .. controls (930,300) and (960,310) .. (ltm.north west);
\eA{prop}{Lincl12}\eA{Lincl12}{decl}\eA{Lincl12}{proc2}
\eA{decl}{Lpartof}\eA{proc2}{Lpartof}\eA{Lpartof}{ltm}
\eL{sens}{Linfl2}\eA{Linfl2}{att2}\eA{Linfl2}{perc}
\eL{sens}{Lbecomes1}\draw[ca] (Lbecomes1) .. controls (845,345) and (860,350) .. (stm.west);
\eA{stm}{Llimited}\eA{Llimited}{dur}
\draw[ca] (stm.east) .. controls (960,360) and (970,365) .. (Lbecomes2);
\draw[ca] (Lbecomes2) .. controls (990,355) and (985,345) .. (ltm.south);
\eL{stm}{Lstores}\eA{Lstores}{chunks}
\eA{Lreq}{stm}\eA{Lreq}{reh}\eA{Lreq}{coding}\eA{Lreq}{imag}
\eL{meta}{Lutil}\eA{Lutil}{quest}\eA{Lutil}{conn}\eA{Lutil}{pred}
\draw[cl] (ltm.south east) .. controls (1020,355) and (1000,375) .. (Laffby);
\eA{Laffby}{expt}\eA{Laffby}{botu}
\eL{expt}{Linfl}\eA{Linfl}{topd}
\eA{botu}{Lrelon3}\eA{Lrelon3}{prior}
\draw[cl] (constd.south west) .. controls (1140,400) and (1080,475) .. (Lbuild2);
\draw[ca] (Lbuild2) .. controls (880,470) and (760,380) .. ([yshift=-3pt]prior.east);
\eL{sitc}{Ldisc2}\eA{Ldisc2}{cnst}
\draw[cl] (sitc.north west) .. controls (830,545) and (780,500) .. (Ldisc1);
\draw[ca] (Ldisc1) .. controls (778,330) and (775,215) .. (cip.south east);
% constructivism
\eL{cnst}{Lincl13}\eA{Lincl13}{socio}
\eL{cnst}{Lbelieves}\eA{Lbelieves}{subj}\eA{Lbelieves}{constd}
\eL{socio}{Lsuppby}\eA{Lsuppby}{vyg}
\eL{constd}{Lconsid3}
\draw[ca] (Lconsid3) .. controls (1420,440) and (1492,510) .. (1491,620) .. controls (1490,740) and (1470,820) .. (lpep.north);
\eL{vyg}{Lintro}\eA{Lintro}{zpd}
\eL{zpd}{Lsupp3}\eL{Lsupp3}{scaf}
\draw[cl] (zpd.south) .. controls (1262,440) and (1265,445) .. (Lenc1);
\draw[ca] (Lenc1) .. controls (1275,490) and (1275,520) .. (capp.north);
\eL{anch}{Lcreates}\eA{Lcreates}{condsl}
\eL{condsl}{Lvia1}\eA{Lvia1}{video}\eA{Lvia1}{probs}
\eL{anch}{Lwas}\eA{Lwas}{crit}
\eL{crit}{Lfor}\eA{Lfor}{sim}
\draw[cl] ([xshift=-8pt]capp.north) .. controls (1230,540) and (1222,530) .. (Lrel5);
\eA{Lrel5}{lip}
\eL{impl}{Lincluding}\eA{Lincluding}{anch}\eA{Lincluding}{capp}
\eL{capp}{Lencult}\eA{Lencult}{auth}
\draw[cl] (lip.west) .. controls (1140,490) and (1090,505) .. (Lapart);
\draw[ca] (Lapart) .. controls (1000,527) and (900,540) .. (cop.north east);
\draw[cl] (cop.east) .. controls (950,545) and (1030,535) .. (Lhas);
\eA{Lhas}{impl}
\draw[cl] (constc.south) .. controls (830,865) and (950,868) .. (Lrelto10);
\draw[ca] (Lrelto10) .. controls (1330,845) and (1420,790) .. (1420,640) .. controls (1410,580) and (1240,300) .. (cnst.south east);
% social learning
\eL{slt}{Lincl14}\eA{Lincl14}{sitc}\eA{Lincl14}{actth}\eA{Lincl14}{distc}
\eL{actth}{Lisa2}\eA{Lisa2}{cframe}
\eL{distc}{Ldevby}\eA{Ldevby}{hutch}
\eL{distc}{Lviews2}\eA{Lviews2}{cogp}
\eL{cogp}{Lnotas}\eA{Lnotas}{indb}
\eL{indb}{Lbut}\eA{Lbut}{situ}
\eL{situ}{Lconsid5}\eA{Lconsid5}{tools}\eA{Lconsid5}{artif}\eA{Lconsid5}{culture}
\eL{tools}{Lconnto2}\eL{artif}{Lconnto2}\eL{culture}{Lconnto2}\eA{Lconnto2}{realw}
\eL{cframe}{Ltounder}\eA{Ltounder}{humc}
\eL{humc}{Linflby3}\eA{Linflby3}{activ}
\eL{activ}{Lwhichis2}\eA{Lwhichis2}{meanb}
\eL{meanb}{Lin}\eA{Lin}{broad}
\eL{activ}{Lenc2}\eA{Lenc2}{roles}
\draw[cl] (sitc.south east) .. controls (950,600) and (960,605) .. (Lincl15);
\draw[ca] (Lincl15) .. controls (955,665) and (975,705) .. (assess.north west);
\eL{assess}{Lconsid4}\eA{Lconsid4}{portf}
\eL{portf}{Lemph}\eA{Lemph}{lpep}
\draw[ca] (Lto4) .. controls (1200,815) and (1020,825) .. (realw.south east);
\draw[ca] (Lto4) .. controls (1345,790) and (1378,760) .. ([xshift=-2pt]relv.south);
\draw[cl] (deep.south) .. controls (852,845) and (880,852) .. (Lthatis);
\draw[ca] (Lthatis) .. controls (1100,848) and (1300,840) .. (1360,800) .. controls (1388,775) and (1388,720) .. ([xshift=2pt]relv.south);
\eL{sitc}{Lconnects}\eA{Lconnects}{learnb}
\eL{learnb}{Lto1}\draw[ca] (Lto1) .. controls (845,636) and (840,610) .. ([xshift=-10pt]cop.south east);
\eL{learnb}{Lrelto9}\eL{Lrelto9}{partic}
\eL{learnb}{Lisa3}\eA{Lisa3}{lived}
\eL{learnb}{Lto2}\eA{Lto2}{context}
\eL{partic}{Lincl24}\eL{Lincl24}{orgs}\eL{Lincl24}{indivs}\eL{Lincl24}{commu}
\eL{context}{Lincl23}\eA{Lincl23}{envb}\eA{Lincl23}{realw}
\eL{cop}{Lincl21}\draw[ca] (Lincl21) .. controls (830,630) and (820,632) .. (groups.east);
\eL{groups}{Lthat}\eA{Lthat}{interact}\eA{Lthat}{share}
\eL{share}{Lincl22}\eA{Lincl22}{expr}
\eL{interact}{Lprom}\eA{Lprom}{change}
\eL{change}{Lincl18}\eA{Lincl18}{roler}
\eL{interact}{Lvia2}\eA{Lvia2}{f2f}\eA{Lvia2}{virt}
\eL{interact}{Lonan}\eL{Lonan}{ongo}
\eL{interact}{Lto3}\eA{Lto3}{deep}
\eL{interact}{Lincl25}\eA{Lincl25}{collb}\eA{Lincl25}{constc}
\eL{groups}{Land2}\eA{Land2}{cults}
\eL{cop}{Lview}\draw[ca] (Lview) .. controls (734,700) and (735,730) .. (cogn.north east);
\draw[cl] (groups.south west) .. controls (760,680) and (740,730) .. (Lincl19);
\eA{Lincl19}{lcom}
\eL{lcom}{Lhave}\eA{Lhave}{csile}
\eL{csile}{Lisan}\eA{Lisan}{ocd}
\eL{ocd}{Lsupping}\eA{Lsupping}{kcon}
\eL{cogn}{Lmatter}\eA{Lmatter}{semio}
\eL{semio}{Lincl20}\eL{Lincl20}{signs}
\eL{signs}{Ltmb}\eL{Ltmb}{symb}\eL{Ltmb}{icon}\eL{Ltmb}{index}
\eL{cults}{Ltc}\eA{Ltc}{novic}\eA{Ltc}{expert}
\eL{novic}{Ltmf}\draw[ca] (Ltmf) .. controls (610,595) and (595,570) .. ([xshift=8pt]peri.south);
\draw[cl] (sitc.north west) .. controls (850,540) and (780,505) .. (Lrooted);
\draw[cl] (Lrooted) .. controls (640,510) and (610,515) .. (peri.east);
\eL{peri}{Lcalled}\eA{Lcalled}{lpp}\eA{Lcalled}{eco}
\eL{eco}{Lincl17}\eA{Lincl17}{afford}
\eL{mutal}{Lrel6}\eA{Lrel6}{joint}
\eL{joint}{Lrel7}\eA{Lrel7}{shared}
\eL{cop}{Lrel8}\eA{Lrel8}{mutal}
\eL{lpp}{Lincl16}\eL{Lincl16}{ltraj}
\eL{lpp}{Ldefas}\eA{Ldefas}{p1}\eA{Ldefas}{p2}\eL{Ldefas}{p3}\eL{Ldefas}{p4}\eL{Ldefas}{p5}\eL{ltraj}{Ldefas}
\eL{eco}{Land1}\eA{Land1}{every}\eA{Land1}{critp}
\eL{every}{Lrelon4}\eA{Lrelon4}{sensb}
\eL{sensb}{Lnota}\eA{Lnota}{formal}
\eL{critp}{Lviews}\eA{Lviews}{posc}
% piaget
\eL{piaget}{Lbelieved}\eA{Lbelieved}{kidi}
\eL{piaget}{Lsupported}\eA{Lsupported}{genep}\eA{Lsupported}{devt}
\eL{devt}{Lincl26}\eA{Lincl26}{preop}
\end{scope}
\end{tikzpicture}
\end{document}
